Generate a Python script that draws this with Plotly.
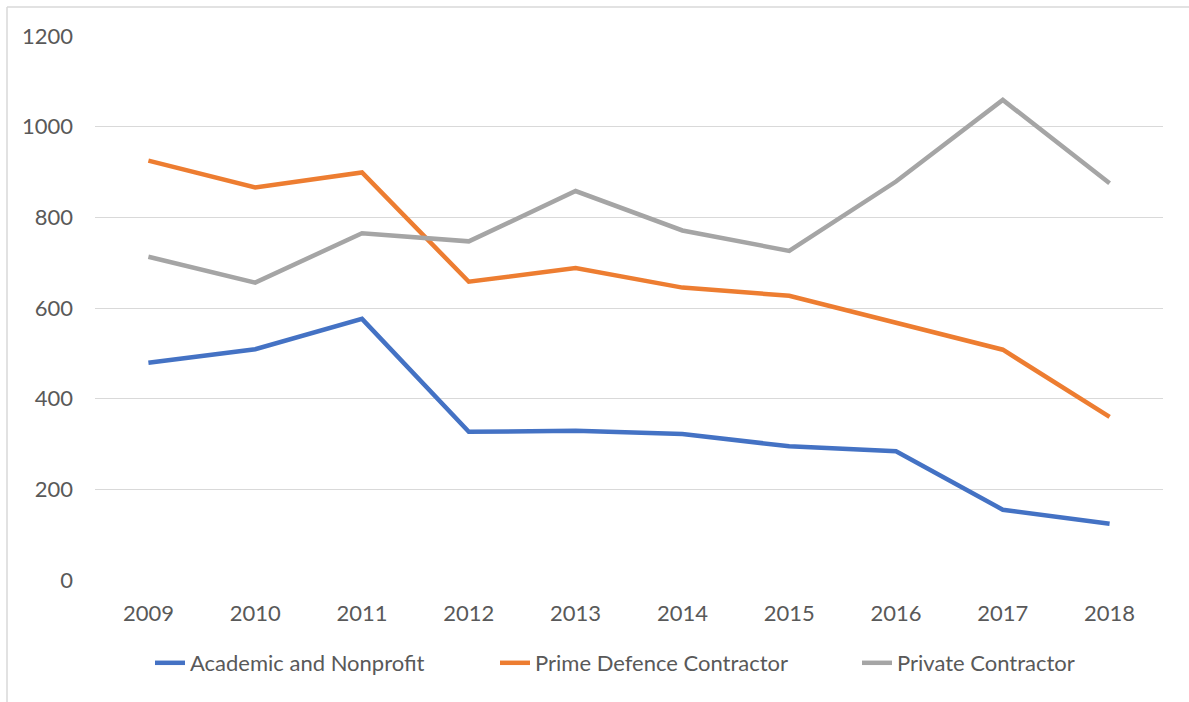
import plotly.graph_objects as go

years = ["2009", "2010", "2011", "2012", "2013", "2014", "2015", "2016", "2017", "2018"]
academic = [479, 509, 576, 327, 329, 322, 295, 284, 155, 124]
prime = [925, 866, 899, 658, 688, 645, 627, 568, 508, 360]
private = [713, 656, 765, 747, 858, 771, 726, 879, 1059, 875]

W, H = 1189, 702
L, R, T, B = 95, 26, 36, 122
pw, ph = W - L - R, H - T - B

def px_x(p):
    return (p - L) / pw

def px_y(p):
    return 1 - (p - T) / ph

font = dict(family="Lato, Open Sans, sans-serif", size=22, color="#595959")

series = [("Academic and Nonprofit", academic, "#4472C4", "legend", 190),
          ("Prime Defence Contractor", prime, "#ED7D31", "legend2", 535),
          ("Private Contractor", private, "#A5A5A5", "legend3", 897)]

fig = go.Figure()
for name, vals, col, lg, _ in series:
    fig.add_trace(go.Scatter(x=years, y=vals, name=name, mode="lines",
                             line=dict(color=col, width=4.5), legend=lg))

legends = {}
for name, vals, col, lg, tx in series:
    legends[lg] = dict(orientation="h", x=px_x(tx - 40), xanchor="left",
                       y=px_y(663), yanchor="middle", font=font,
                       bgcolor="rgba(0,0,0,0)", borderwidth=0)

fig.update_layout(
    width=W, height=H,
    margin=dict(l=L, r=R, t=T, b=B),
    paper_bgcolor="white", plot_bgcolor="white",
    font=font,
    xaxis=dict(type="category", range=[-0.5, 9.5], showgrid=False, showline=False,
               zeroline=False, ticks="", tickfont=font, ticklabelstandoff=18),
    yaxis=dict(range=[0, 1200], dtick=200, showgrid=True, gridcolor="#D9D9D9",
               gridwidth=1.3, zeroline=False, showline=False, ticks="",
               tickfont=font, ticklabelstandoff=21),
    showlegend=True,
    shapes=[
        dict(type="line", xref="paper", yref="paper", x0=px_x(7), x1=px_x(1195),
             y0=px_y(7), y1=px_y(7), line=dict(color="#D9D9D9", width=1.5)),
        dict(type="line", xref="paper", yref="paper", x0=px_x(7), x1=px_x(7),
             y0=px_y(7), y1=px_y(710), line=dict(color="#D9D9D9", width=1.5)),
    ],
    **legends,
)

fig.write_html("out.html", config={"displayModeBar": False},
               post_script="document.body.style.margin='0';document.body.style.overflow='hidden';")
